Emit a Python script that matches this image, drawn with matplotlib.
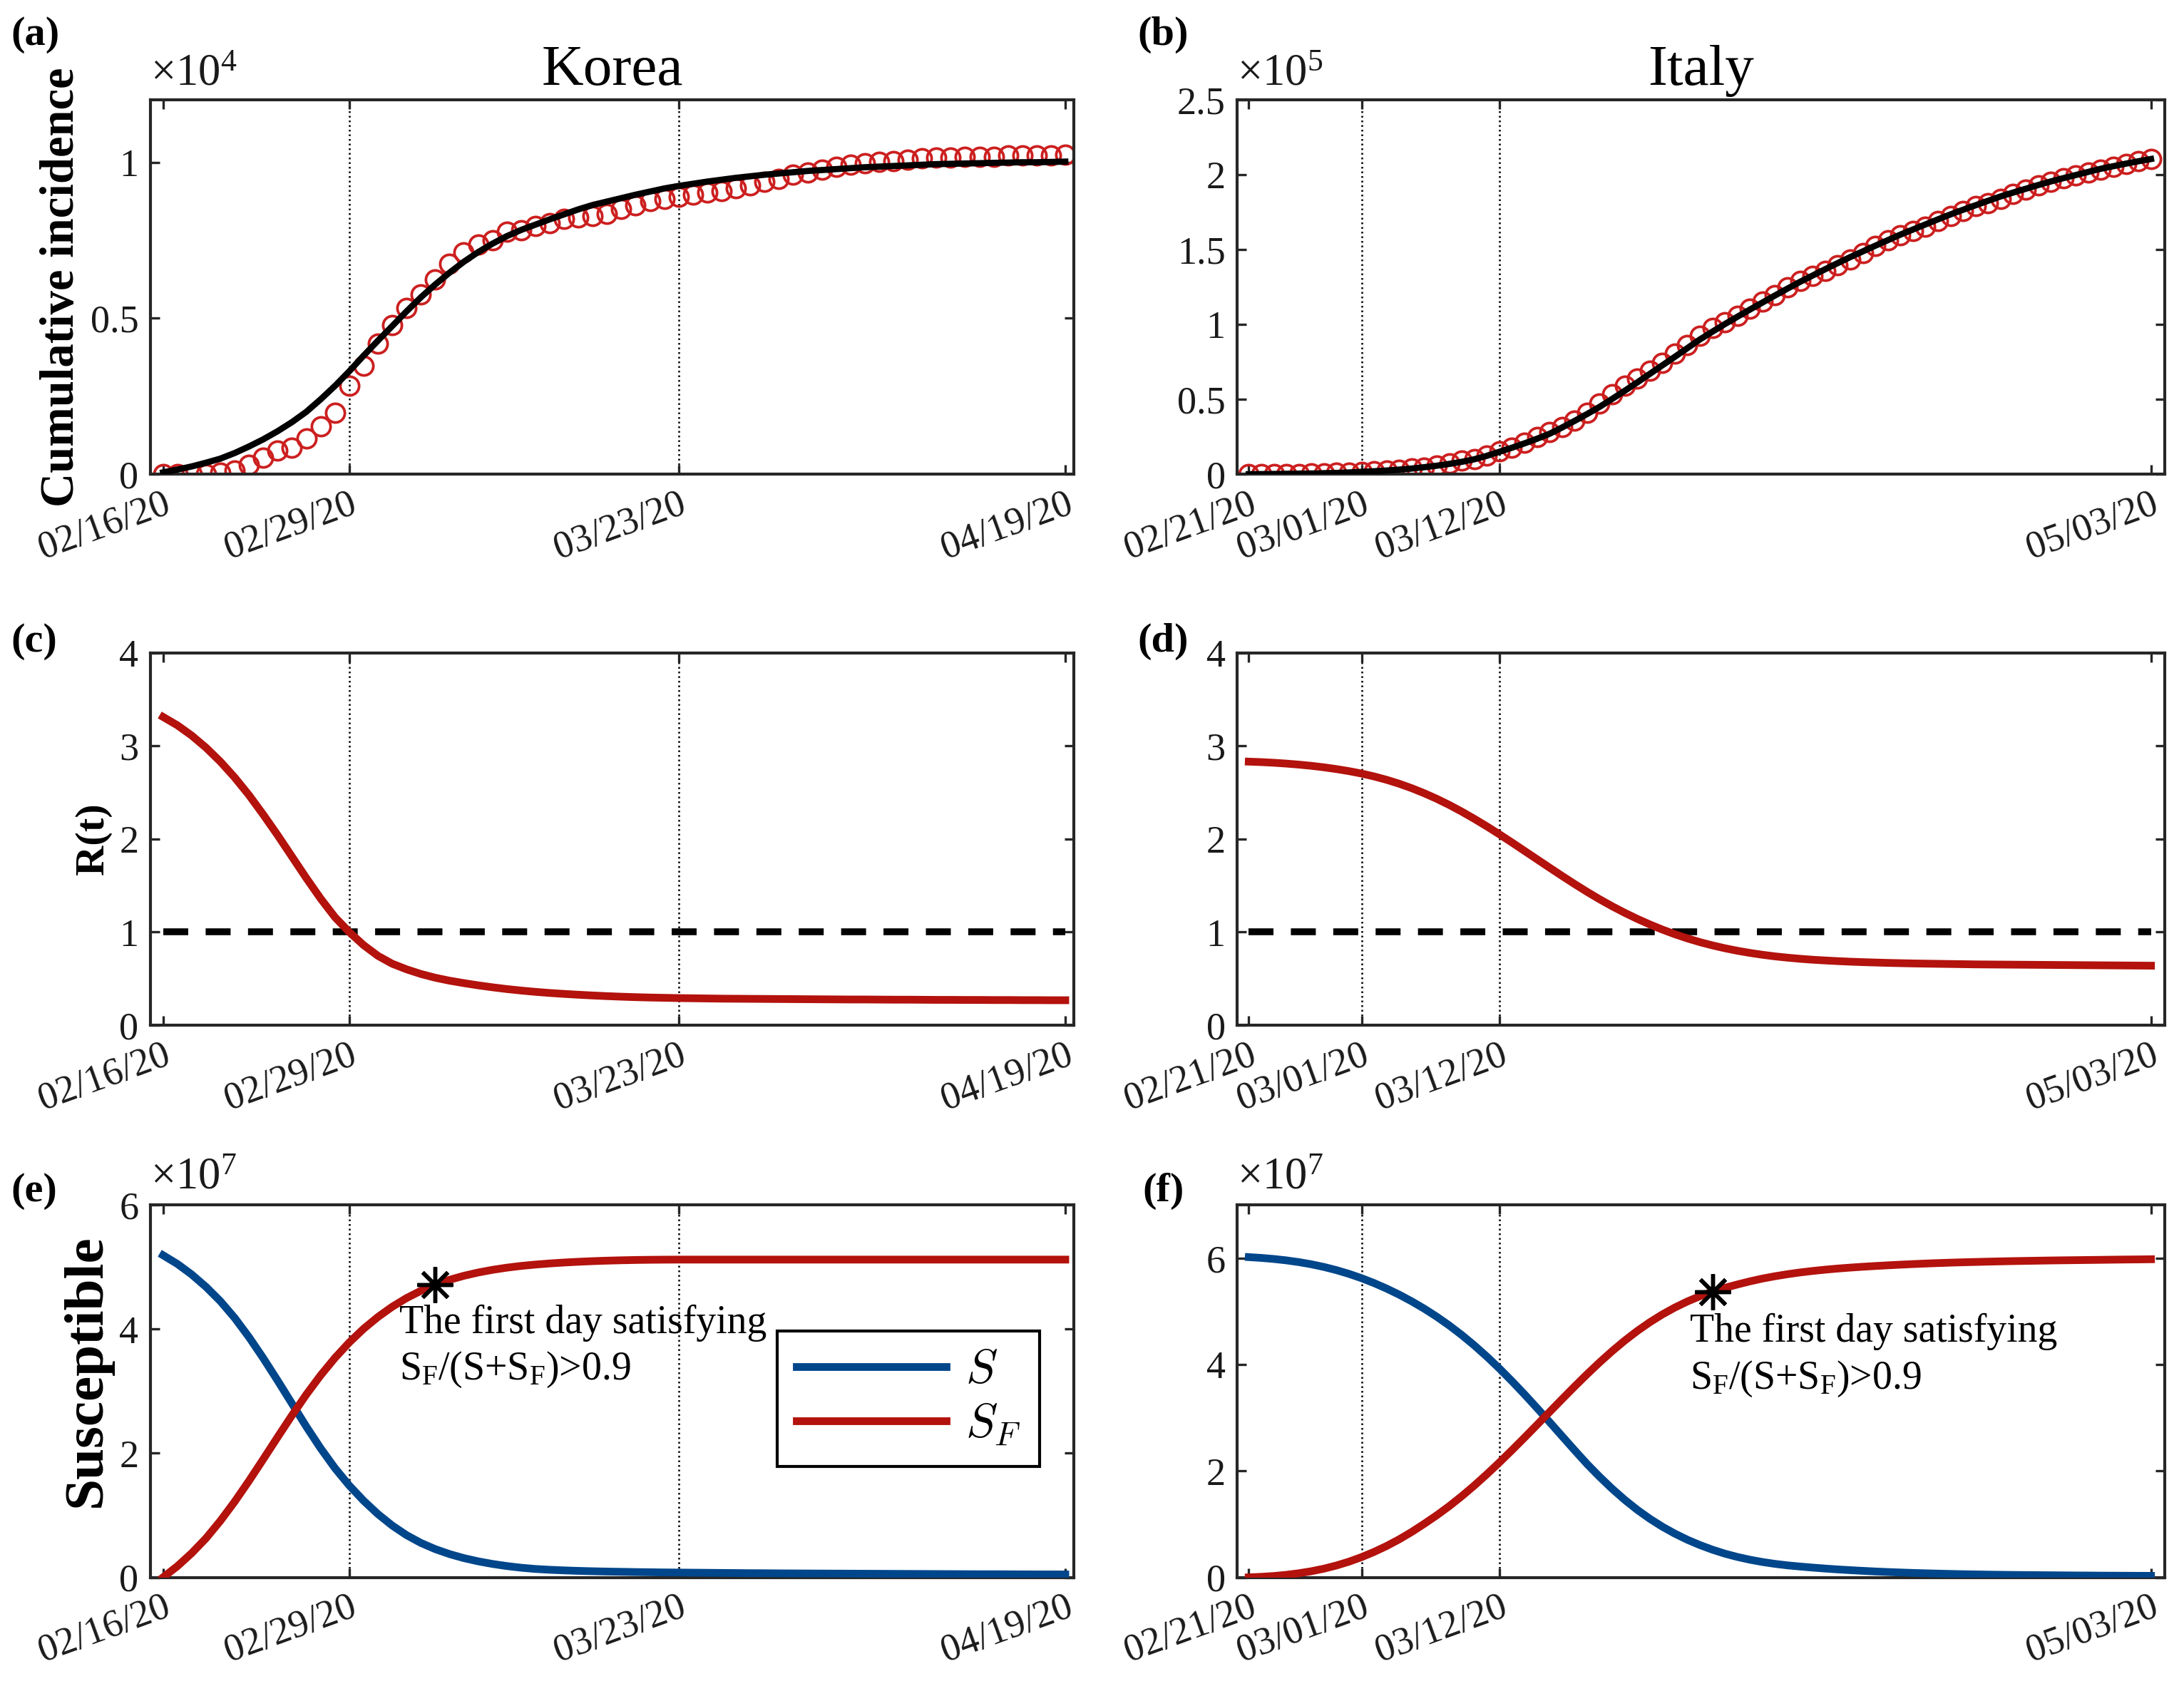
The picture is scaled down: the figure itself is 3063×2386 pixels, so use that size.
import matplotlib
matplotlib.use("Agg")
import matplotlib.pyplot as plt
import numpy as np
import pandas as pd

plt.rcParams['font.family'] = ['Liberation Serif', 'DejaVu Serif']
plt.rcParams['mathtext.fontset'] = 'custom'
plt.rcParams['mathtext.rm'] = 'Liberation Serif'
plt.rcParams['mathtext.it'] = 'Liberation Serif:italic'
plt.rcParams['mathtext.bf'] = 'Liberation Serif:bold'

# ---------------- dados ----------------
# Coreia: 02/16/20 .. 04/19/20 (um valor por dia)
coreia_inicio = '02/16/20'
coreia_rotulos = ['02/16/20', '02/29/20', '03/23/20', '04/19/20']

# incidencia acumulada (x 1e4)
coreia_casos = [0.000, 0.000, 0.000, 0.000, 0.005, 0.012, 0.030, 0.052, 0.075, 0.086,
                0.115, 0.154, 0.198, 0.283, 0.348, 0.418, 0.479, 0.533, 0.577, 0.625,
                0.675, 0.710, 0.737, 0.750, 0.778, 0.783, 0.796, 0.804, 0.818, 0.823,
                0.827, 0.835, 0.850, 0.862, 0.875, 0.883, 0.890, 0.896, 0.902, 0.908,
                0.917, 0.925, 0.937, 0.946, 0.960, 0.967, 0.977, 0.985, 0.993, 0.997,
                1.002, 1.004, 1.008, 1.012, 1.014, 1.015, 1.017, 1.018, 1.018, 1.021,
                1.021, 1.023, 1.023, 1.025]
coreia_ajuste = [0.006, 0.015, 0.025, 0.037, 0.050, 0.068, 0.089, 0.112, 0.138, 0.167,
                 0.200, 0.240, 0.283, 0.330, 0.380, 0.428, 0.475, 0.522, 0.567, 0.608,
                 0.646, 0.681, 0.712, 0.739, 0.763, 0.783, 0.800, 0.817, 0.833, 0.849,
                 0.863, 0.874, 0.885, 0.896, 0.906, 0.916, 0.924, 0.931, 0.938, 0.944,
                 0.950, 0.955, 0.960, 0.964, 0.968, 0.972, 0.975, 0.978, 0.981, 0.984,
                 0.986, 0.988, 0.990, 0.992, 0.994, 0.995, 0.996, 0.997, 0.998, 0.999,
                 1.000, 1.000, 1.001, 1.002]
coreia_R = [3.31, 3.22, 3.11, 2.98, 2.83, 2.66, 2.47, 2.26, 2.04, 1.81,
            1.58, 1.36, 1.16, 1.00, 0.86, 0.745, 0.66, 0.60, 0.55, 0.51,
            0.478, 0.452, 0.428, 0.407, 0.388, 0.372, 0.358, 0.346, 0.336, 0.327,
            0.319, 0.312, 0.306, 0.301, 0.297, 0.294, 0.291, 0.289, 0.287, 0.285,
            0.284, 0.283, 0.282, 0.281, 0.280, 0.279, 0.278, 0.277, 0.276, 0.276,
            0.275, 0.274, 0.274, 0.273, 0.272, 0.272, 0.271, 0.271, 0.270, 0.270,
            0.269, 0.269, 0.268, 0.268]
# suscetiveis (x 1e7)
coreia_S = [5.19, 5.05, 4.88, 4.68, 4.45, 4.18, 3.87, 3.53, 3.17, 2.80,
            2.43, 2.08, 1.76, 1.48, 1.235, 1.02, 0.835, 0.68, 0.555, 0.455,
            0.375, 0.31, 0.258, 0.216, 0.182, 0.155, 0.135, 0.122, 0.112, 0.104,
            0.098, 0.093, 0.089, 0.085, 0.082, 0.079, 0.077, 0.075, 0.073, 0.071,
            0.069, 0.067, 0.066, 0.064, 0.063, 0.062, 0.061, 0.060, 0.059, 0.058,
            0.057, 0.056, 0.055, 0.054, 0.053, 0.052, 0.051, 0.050, 0.050, 0.049,
            0.048, 0.047, 0.047, 0.046]
coreia_SF = [0.00, 0.18, 0.39, 0.63, 0.91, 1.22, 1.555, 1.905, 2.26, 2.61,
             2.945, 3.255, 3.535, 3.785, 4.005, 4.195, 4.36, 4.50, 4.617, 4.714,
             4.794, 4.859, 4.912, 4.955, 4.99, 5.018, 5.04, 5.058, 5.073, 5.085,
             5.095, 5.103, 5.109, 5.114, 5.117, 5.119, 5.12, 5.12, 5.12, 5.12,
             5.12, 5.12, 5.12, 5.12, 5.12, 5.12, 5.12, 5.12, 5.12, 5.12,
             5.12, 5.12, 5.12, 5.12, 5.12, 5.12, 5.12, 5.12, 5.12, 5.12,
             5.12, 5.12, 5.12, 5.12]

# Italia: 02/21/20 .. 05/03/20
italia_inicio = '02/21/20'
italia_rotulos = ['02/21/20', '03/01/20', '03/12/20', '05/03/20']

# incidencia acumulada (x 1e5)
italia_casos = [0.000, 0.001, 0.002, 0.002, 0.003, 0.005, 0.007, 0.009, 0.011, 0.017,
                0.020, 0.025, 0.031, 0.039, 0.046, 0.059, 0.074, 0.092, 0.101, 0.125,
                0.151, 0.177, 0.212, 0.247, 0.280, 0.315, 0.357, 0.410, 0.470, 0.536,
                0.591, 0.639, 0.692, 0.744, 0.806, 0.865, 0.925, 0.977, 1.017, 1.058,
                1.106, 1.152, 1.198, 1.246, 1.289, 1.325, 1.356, 1.394, 1.436, 1.476,
                1.523, 1.564, 1.595, 1.625, 1.652, 1.689, 1.724, 1.759, 1.790, 1.812,
                1.840, 1.873, 1.900, 1.930, 1.954, 1.977, 1.994, 2.015, 2.036, 2.055,
                2.074, 2.093, 2.107]
italia_ajuste = [0.000, 0.001, 0.002, 0.003, 0.004, 0.005, 0.007, 0.009, 0.012, 0.016,
                 0.020, 0.025, 0.031, 0.038, 0.047, 0.057, 0.069, 0.083, 0.100, 0.123,
                 0.150, 0.177, 0.206, 0.237, 0.270, 0.312, 0.356, 0.402, 0.450, 0.503,
                 0.557, 0.613, 0.670, 0.727, 0.784, 0.842, 0.900, 0.952, 1.003, 1.052,
                 1.100, 1.147, 1.194, 1.240, 1.285, 1.327, 1.369, 1.410, 1.450, 1.488,
                 1.526, 1.563, 1.600, 1.634, 1.668, 1.702, 1.735, 1.766, 1.796, 1.826,
                 1.855, 1.881, 1.906, 1.931, 1.955, 1.977, 1.998, 2.019, 2.040, 2.057,
                 2.074, 2.090, 2.105]
italia_R = [2.83, 2.825, 2.818, 2.809, 2.798, 2.785, 2.769, 2.75, 2.728, 2.702,
            2.671, 2.635, 2.593, 2.545, 2.491, 2.431, 2.365, 2.293, 2.216, 2.135,
            2.05, 1.962, 1.872, 1.782, 1.692, 1.603, 1.516, 1.432, 1.352, 1.277,
            1.207, 1.142, 1.082, 1.027, 0.977, 0.932, 0.892, 0.857, 0.826, 0.799,
            0.776, 0.756, 0.739, 0.725, 0.713, 0.703, 0.695, 0.688, 0.682, 0.677,
            0.673, 0.669, 0.666, 0.663, 0.661, 0.659, 0.657, 0.655, 0.653, 0.652,
            0.651, 0.650, 0.649, 0.648, 0.647, 0.646, 0.645, 0.644, 0.643, 0.642,
            0.641, 0.640, 0.639]
# suscetiveis (x 1e7)
italia_S = [6.02, 6.005, 5.985, 5.959, 5.926, 5.885, 5.835, 5.775, 5.705, 5.624,
            5.532, 5.429, 5.315, 5.189, 5.051, 4.90, 4.735, 4.555, 4.36, 4.15,
            3.926, 3.689, 3.441, 3.184, 2.921, 2.655, 2.39, 2.13, 1.89, 1.665,
            1.458, 1.27, 1.102, 0.953, 0.822, 0.707, 0.607, 0.52, 0.445, 0.383,
            0.331, 0.288, 0.253, 0.225, 0.203, 0.183, 0.165, 0.149, 0.135, 0.122,
            0.110, 0.100, 0.091, 0.083, 0.076, 0.070, 0.064, 0.059, 0.055, 0.051,
            0.048, 0.045, 0.043, 0.041, 0.039, 0.037, 0.035, 0.034, 0.032, 0.031,
            0.030, 0.029, 0.028]
italia_SF = [0.00, 0.01, 0.025, 0.047, 0.077, 0.115, 0.163, 0.223, 0.295, 0.38,
             0.478, 0.589, 0.714, 0.853, 1.006, 1.166, 1.339, 1.526, 1.726, 1.938,
             2.16, 2.39, 2.626, 2.866, 3.108, 3.349, 3.587, 3.819, 4.042, 4.253,
             4.45, 4.631, 4.795, 4.942, 5.072, 5.186, 5.285, 5.37, 5.443, 5.506,
             5.565, 5.617, 5.661, 5.699, 5.732, 5.760, 5.784, 5.805, 5.823, 5.839,
             5.853, 5.866, 5.878, 5.889, 5.899, 5.908, 5.916, 5.923, 5.929, 5.935,
             5.94, 5.945, 5.949, 5.953, 5.957, 5.960, 5.963, 5.966, 5.969, 5.972,
             5.975, 5.977, 5.98]

# ---------------- estilo ----------------
vermelho = '#B3120D'
azul = '#00468B'
vermelho_circ = '#CC1F1F'
cinza = '#262626'
texto_limite = 'The first day satisfying\n' + r'S$_\mathrm{F}$/(S+S$_\mathrm{F}$)>0.9'


def dias(rotulos, inicio):
    t0 = pd.to_datetime(inicio, format='%m/%d/%y')
    return [(pd.to_datetime(r, format='%m/%d/%y') - t0).days for r in rotulos]


def formatar(ax, rotulos, inicio, xlim, yticks, ylim):
    ticks = dias(rotulos, inicio)
    ax.set_xlim(xlim)
    ax.set_ylim(ylim)
    ax.set_xticks(ticks)
    ax.set_xticklabels(rotulos, rotation=20, ha='right', va='top', rotation_mode='anchor')
    ax.set_yticks(yticks)
    ax.set_yticklabels([f'{v:g}' for v in yticks])
    ax.tick_params(direction='in', top=True, right=True, length=3.2, width=0.8,
                   labelsize=13, color=cinza, labelcolor='#1a1a1a', pad=4)
    # linhas verticais pontilhadas nas datas intermediarias
    for t in ticks[1:-1]:
        ax.axvline(t, color='k', lw=0.6, ls=(0, (1, 1.6)), zorder=0)
    for s in ax.spines.values():
        s.set_linewidth(1.0)
        s.set_color(cinza)


def expoente(ax, n, dy=0.012):
    ax.text(0.0, 1.0 + dy, r'$\times10^{%d}$' % n, transform=ax.transAxes,
            fontsize=15, ha='left', va='bottom', color='#1a1a1a')


fig = plt.figure(figsize=(3063 / 300, 2386 / 300), dpi=300)

esq_x, esq_w = 0.0689, 0.4228
dir_x, dir_w = 0.5665, 0.4247
linhas = [(0.7212, 0.2201), (0.3973, 0.2190), (0.0727, 0.2189)]

ax_a = fig.add_axes([esq_x, linhas[0][0], esq_w, linhas[0][1]])
ax_b = fig.add_axes([dir_x, linhas[0][0], dir_w, linhas[0][1]])
ax_c = fig.add_axes([esq_x, linhas[1][0], esq_w, linhas[1][1]])
ax_d = fig.add_axes([dir_x, linhas[1][0], dir_w, linhas[1][1]])
ax_e = fig.add_axes([esq_x, linhas[2][0], esq_w, linhas[2][1]])
ax_f = fig.add_axes([dir_x, linhas[2][0], dir_w, linhas[2][1]])

xk = np.arange(len(coreia_casos))
xi = np.arange(len(italia_casos))
xlim_k = (-0.88, 63.6)
xlim_i = (-0.92, 73.1)

# (a) / (b) incidencia acumulada
for ax, x, casos, ajuste in [(ax_a, xk, coreia_casos, coreia_ajuste),
                             (ax_b, xi, italia_casos, italia_ajuste)]:
    ax.plot(x, casos, 'o', mfc='none', mec=vermelho_circ, ms=6.3, mew=0.9, zorder=2)
    ax.plot(x, ajuste, color='k', lw=2.1, zorder=3)

formatar(ax_a, coreia_rotulos, coreia_inicio, xlim_k, [0, 0.5, 1], (0, 1.2))
formatar(ax_b, italia_rotulos, italia_inicio, xlim_i, [0, 0.5, 1, 1.5, 2, 2.5], (0, 2.5))
ax_a.set_title('Korea', fontsize=19.5, pad=5)
ax_b.set_title('Italy', fontsize=19.5, pad=5)
expoente(ax_a, 4)
expoente(ax_b, 5)
ax_a.set_ylabel('Cumulative incidence', fontsize=16, fontweight='bold')
ax_a.yaxis.set_label_coords(-0.073, 0.5)

# (c) / (d) R(t)
for ax, x, R in [(ax_c, xk, coreia_R), (ax_d, xi, italia_R)]:
    ax.plot([x[0], x[-1]], [1, 1], color='k', lw=2.3, dashes=(3.65, 2.55), zorder=2)
    ax.plot(x, R, color=vermelho, lw=2.6, zorder=3)

formatar(ax_c, coreia_rotulos, coreia_inicio, xlim_k, [0, 1, 2, 3, 4], (0, 4))
formatar(ax_d, italia_rotulos, italia_inicio, xlim_i, [0, 1, 2, 3, 4], (0, 4))
ax_c.set_ylabel('R(t)', fontsize=14, fontweight='bold')
ax_c.yaxis.set_label_coords(-0.042, 0.5)

# (e) / (f) suscetiveis
for ax, x, S, SF in [(ax_e, xk, coreia_S, coreia_SF), (ax_f, xi, italia_S, italia_SF)]:
    S = np.array(S)
    SF = np.array(SF)
    l1, = ax.plot(x, S, color=azul, lw=2.6, label=r'$S$', zorder=3)
    l2, = ax.plot(x, SF, color=vermelho, lw=2.6, label=r'$S_F$', zorder=3)
    # primeiro dia em que S_F/(S+S_F) > 0.9
    dia = int(np.argmax(SF / (S + SF) > 0.9))
    ax.plot(x[dia], SF[dia], marker=(8, 2, 0), ms=12, mew=1.3, color='k', zorder=5)

formatar(ax_e, coreia_rotulos, coreia_inicio, xlim_k, [0, 2, 4, 6], (0, 6))
formatar(ax_f, italia_rotulos, italia_inicio, xlim_i, [0, 2, 4, 6], (0, 7))
expoente(ax_e, 7, 0.016)
expoente(ax_f, 7, 0.016)
ax_e.set_ylabel('Susceptible', fontsize=19, fontweight='bold')
ax_e.yaxis.set_label_coords(-0.041, 0.555)

ax_e.text(16.5, 4.40, texto_limite, fontsize=13.4, ha='left', va='top', linespacing=1.3)
ax_f.text(35.2, 4.97, texto_limite, fontsize=13.4, ha='left', va='top', linespacing=1.3)

leg = ax_e.legend(handles=[l1, l2], loc='upper left', bbox_to_anchor=(0.679, 0.662),
                  fontsize=16, handlelength=3.15, handletextpad=0.4, borderpad=0.4,
                  labelspacing=0.18, borderaxespad=0, frameon=True, fancybox=False,
                  edgecolor='k', framealpha=1)
leg.get_frame().set_linewidth(1.0)
for t in leg.get_texts():
    t.set_math_fontfamily('cm')

# letras dos paineis
for letra, px, py in [('(a)', 0.005, 0.9795), ('(b)', 0.521, 0.9795),
                      ('(c)', 0.005, 0.6228), ('(d)', 0.521, 0.6228),
                      ('(e)', 0.005, 0.2996), ('(f)', 0.523, 0.2996)]:
    fig.text(px, py, letra, fontsize=14, fontweight='bold', va='center', ha='left')

fig.savefig('out.png', dpi=300)
